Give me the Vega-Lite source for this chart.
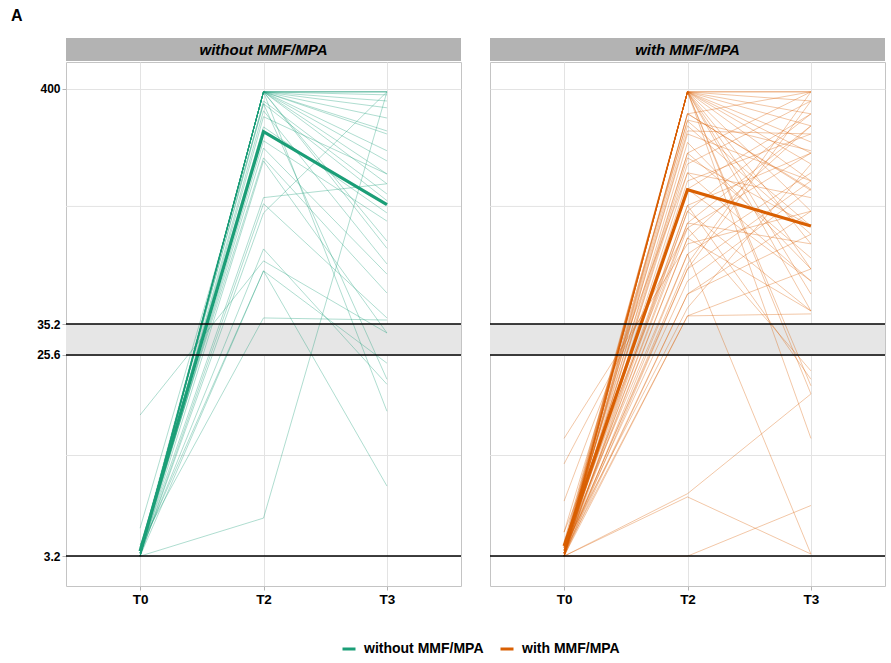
{
  "$schema": "https://vega.github.io/schema/vega-lite/v6.json",
  "padding": {"left": 11, "top": 8, "right": 5, "bottom": 5},
  "title": {"text": "A", "anchor": "start", "frame": "group", "dx": -55, "offset": 14, "fontSize": 16, "fontWeight": "bold", "font": "Liberation Sans", "color": "#000"},
  "datasets": {
    "without": [
      {"id": "L1", "t": "T0", "v": 3.2}, {"id": "L1", "t": "T2", "v": 388}, {"id": "L1", "t": "T3", "v": 388},
      {"id": "L2", "t": "T0", "v": 3.2}, {"id": "L2", "t": "T2", "v": 388}, {"id": "L2", "t": "T3", "v": 388},
      {"id": "L3", "t": "T0", "v": 3.3}, {"id": "L3", "t": "T2", "v": 388}, {"id": "L3", "t": "T3", "v": 388},
      {"id": "L4", "t": "T0", "v": 3.3}, {"id": "L4", "t": "T2", "v": 388}, {"id": "L4", "t": "T3", "v": 376},
      {"id": "L5", "t": "T0", "v": 3.2}, {"id": "L5", "t": "T2", "v": 388}, {"id": "L5", "t": "T3", "v": 296},
      {"id": "L6", "t": "T0", "v": 3.3}, {"id": "L6", "t": "T2", "v": 388}, {"id": "L6", "t": "T3", "v": 259},
      {"id": "L7", "t": "T0", "v": 3.2}, {"id": "L7", "t": "T2", "v": 388}, {"id": "L7", "t": "T3", "v": 251},
      {"id": "L8", "t": "T0", "v": 3.3}, {"id": "L8", "t": "T2", "v": 388}, {"id": "L8", "t": "T3", "v": 211},
      {"id": "L9", "t": "T0", "v": 3.2}, {"id": "L9", "t": "T2", "v": 388}, {"id": "L9", "t": "T3", "v": 190},
      {"id": "L10", "t": "T0", "v": 3.4}, {"id": "L10", "t": "T2", "v": 388}, {"id": "L10", "t": "T3", "v": 166},
      {"id": "L11", "t": "T0", "v": 3.3}, {"id": "L11", "t": "T2", "v": 388}, {"id": "L11", "t": "T3", "v": 150},
      {"id": "L12", "t": "T0", "v": 3.2}, {"id": "L12", "t": "T2", "v": 388}, {"id": "L12", "t": "T3", "v": 77},
      {"id": "L13", "t": "T0", "v": 3.3}, {"id": "L13", "t": "T2", "v": 353}, {"id": "L13", "t": "T3", "v": 135},
      {"id": "L14", "t": "T0", "v": 3.4}, {"id": "L14", "t": "T2", "v": 343}, {"id": "L14", "t": "T3", "v": 126},
      {"id": "L15", "t": "T0", "v": 3.2}, {"id": "L15", "t": "T2", "v": 319}, {"id": "L15", "t": "T3", "v": 65.5},
      {"id": "L16", "t": "T0", "v": 3.3}, {"id": "L16", "t": "T2", "v": 217}, {"id": "L16", "t": "T3", "v": 59},
      {"id": "L17", "t": "T0", "v": 3.5}, {"id": "L17", "t": "T2", "v": 196}, {"id": "L17", "t": "T3", "v": 48.5},
      {"id": "L18", "t": "T0", "v": 3.3}, {"id": "L18", "t": "T2", "v": 130}, {"id": "L18", "t": "T3", "v": 150},
      {"id": "L19", "t": "T0", "v": 3.2}, {"id": "L19", "t": "T2", "v": 122}, {"id": "L19", "t": "T3", "v": 37.5},
      {"id": "L20", "t": "T0", "v": 3.2}, {"id": "L20", "t": "T2", "v": 111}, {"id": "L20", "t": "T3", "v": 388},
      {"id": "L21", "t": "T0", "v": 3.3}, {"id": "L21", "t": "T2", "v": 76.5}, {"id": "L21", "t": "T3", "v": 18.9},
      {"id": "L22", "t": "T0", "v": 3.2}, {"id": "L22", "t": "T2", "v": 61}, {"id": "L22", "t": "T3", "v": 6.6},
      {"id": "L23", "t": "T0", "v": 3.4}, {"id": "L23", "t": "T2", "v": 61}, {"id": "L23", "t": "T3", "v": 23.5},
      {"id": "L24", "t": "T0", "v": 3.6}, {"id": "L24", "t": "T2", "v": 37.5}, {"id": "L24", "t": "T3", "v": 36.7},
      {"id": "L25", "t": "T0", "v": 3.2}, {"id": "L25", "t": "T2", "v": 4.74}, {"id": "L25", "t": "T3", "v": 388},
      {"id": "L26", "t": "T0", "v": 13.75}, {"id": "L26", "t": "T2", "v": 67.6}, {"id": "L26", "t": "T3", "v": 32.1},
      {"id": "L27", "t": "T0", "v": 4.27}, {"id": "L27", "t": "T2", "v": 343}, {"id": "L27", "t": "T3", "v": 19.9},
      {"id": "L28", "t": "T0", "v": 3.2}, {"id": "L28", "t": "T2", "v": 388}, {"id": "L28", "t": "T3", "v": 14.3},
      {"id": "L29", "t": "T0", "v": 3.3}, {"id": "L29", "t": "T2", "v": 388}, {"id": "L29", "t": "T3", "v": 83},
      {"id": "L30", "t": "T0", "v": 3.2}, {"id": "L30", "t": "T2", "v": 234}, {"id": "L30", "t": "T3", "v": 102},
      {"id": "L31", "t": "T0", "v": 3.2}, {"id": "L31", "t": "T2", "v": 190}, {"id": "L31", "t": "T3", "v": 32.1},
      {"id": "L32", "t": "T0", "v": 3.3}, {"id": "L32", "t": "T2", "v": 388}, {"id": "L32", "t": "T3", "v": 353},
      {"id": "L33", "t": "T0", "v": 3.2}, {"id": "L33", "t": "T2", "v": 388}, {"id": "L33", "t": "T3", "v": 329},
      {"id": "L34", "t": "T0", "v": 3.5}, {"id": "L34", "t": "T2", "v": 270}, {"id": "L34", "t": "T3", "v": 111},
      {"id": "L35", "t": "T0", "v": 3.2}, {"id": "L35", "t": "T2", "v": 300}, {"id": "L35", "t": "T3", "v": 166},
      {"id": "mean", "t": "T0", "v": 3.37}, {"id": "mean", "t": "T2", "v": 257}, {"id": "mean", "t": "T3", "v": 121}
    ],
    "with": [
      {"id": "R1", "t": "T0", "v": 3.2}, {"id": "R1", "t": "T2", "v": 388}, {"id": "R1", "t": "T3", "v": 388},
      {"id": "R2", "t": "T0", "v": 3.3}, {"id": "R2", "t": "T2", "v": 388}, {"id": "R2", "t": "T3", "v": 388},
      {"id": "R3", "t": "T0", "v": 3.2}, {"id": "R3", "t": "T2", "v": 388}, {"id": "R3", "t": "T3", "v": 353},
      {"id": "R4", "t": "T0", "v": 3.4}, {"id": "R4", "t": "T2", "v": 388}, {"id": "R4", "t": "T3", "v": 309},
      {"id": "R5", "t": "T0", "v": 3.3}, {"id": "R5", "t": "T2", "v": 388}, {"id": "R5", "t": "T3", "v": 273},
      {"id": "R6", "t": "T0", "v": 3.2}, {"id": "R6", "t": "T2", "v": 388}, {"id": "R6", "t": "T3", "v": 206},
      {"id": "R7", "t": "T0", "v": 3.5}, {"id": "R7", "t": "T2", "v": 388}, {"id": "R7", "t": "T3", "v": 184},
      {"id": "R8", "t": "T0", "v": 3.3}, {"id": "R8", "t": "T2", "v": 388}, {"id": "R8", "t": "T3", "v": 154.5},
      {"id": "R9", "t": "T0", "v": 3.2}, {"id": "R9", "t": "T2", "v": 388}, {"id": "R9", "t": "T3", "v": 113},
      {"id": "R10", "t": "T0", "v": 3.6}, {"id": "R10", "t": "T2", "v": 388}, {"id": "R10", "t": "T3", "v": 80.6},
      {"id": "R11", "t": "T0", "v": 3.2}, {"id": "R11", "t": "T2", "v": 388}, {"id": "R11", "t": "T3", "v": 62.2},
      {"id": "R12", "t": "T0", "v": 3.4}, {"id": "R12", "t": "T2", "v": 388}, {"id": "R12", "t": "T3", "v": 17.1},
      {"id": "R13", "t": "T0", "v": 3.3}, {"id": "R13", "t": "T2", "v": 388}, {"id": "R13", "t": "T3", "v": 10.8},
      {"id": "R14", "t": "T0", "v": 3.2}, {"id": "R14", "t": "T2", "v": 309}, {"id": "R14", "t": "T3", "v": 388},
      {"id": "R15", "t": "T0", "v": 3.5}, {"id": "R15", "t": "T2", "v": 309}, {"id": "R15", "t": "T3", "v": 142},
      {"id": "R16", "t": "T0", "v": 4.1}, {"id": "R16", "t": "T2", "v": 287}, {"id": "R16", "t": "T3", "v": 97},
      {"id": "R17", "t": "T0", "v": 3.3}, {"id": "R17", "t": "T2", "v": 259}, {"id": "R17", "t": "T3", "v": 251},
      {"id": "R18", "t": "T0", "v": 3.2}, {"id": "R18", "t": "T2", "v": 206}, {"id": "R18", "t": "T3", "v": 388},
      {"id": "R19", "t": "T0", "v": 3.6}, {"id": "R19", "t": "T2", "v": 206}, {"id": "R19", "t": "T3", "v": 69.7},
      {"id": "R20", "t": "T0", "v": 3.4}, {"id": "R20", "t": "T2", "v": 184}, {"id": "R20", "t": "T3", "v": 353},
      {"id": "R21", "t": "T0", "v": 5.65}, {"id": "R21", "t": "T2", "v": 168}, {"id": "R21", "t": "T3", "v": 54.9},
      {"id": "R22", "t": "T0", "v": 3.3}, {"id": "R22", "t": "T2", "v": 154.5}, {"id": "R22", "t": "T3", "v": 251},
      {"id": "R23", "t": "T0", "v": 3.2}, {"id": "R23", "t": "T2", "v": 113}, {"id": "R23", "t": "T3", "v": 309},
      {"id": "R24", "t": "T0", "v": 3.5}, {"id": "R24", "t": "T2", "v": 113}, {"id": "R24", "t": "T3", "v": 40.3},
      {"id": "R25", "t": "T0", "v": 8.3}, {"id": "R25", "t": "T2", "v": 95}, {"id": "R25", "t": "T3", "v": 206},
      {"id": "R26", "t": "T0", "v": 3.4}, {"id": "R26", "t": "T2", "v": 95}, {"id": "R26", "t": "T3", "v": 21.7},
      {"id": "R27", "t": "T0", "v": 3.3}, {"id": "R27", "t": "T2", "v": 85.7}, {"id": "R27", "t": "T3", "v": 273},
      {"id": "R28", "t": "T0", "v": 10.8}, {"id": "R28", "t": "T2", "v": 80.6}, {"id": "R28", "t": "T3", "v": 113},
      {"id": "R29", "t": "T0", "v": 3.2}, {"id": "R29", "t": "T2", "v": 72.6}, {"id": "R29", "t": "T3", "v": 168},
      {"id": "R30", "t": "T0", "v": 3.6}, {"id": "R30", "t": "T2", "v": 72.6}, {"id": "R30", "t": "T3", "v": 3.27},
      {"id": "R31", "t": "T0", "v": 3.3}, {"id": "R31", "t": "T2", "v": 65.5}, {"id": "R31", "t": "T3", "v": 388},
      {"id": "R32", "t": "T0", "v": 3.4}, {"id": "R32", "t": "T2", "v": 54.9}, {"id": "R32", "t": "T3", "v": 142},
      {"id": "R33", "t": "T0", "v": 3.2}, {"id": "R33", "t": "T2", "v": 48}, {"id": "R33", "t": "T3", "v": 89},
      {"id": "R34", "t": "T0", "v": 3.5}, {"id": "R34", "t": "T2", "v": 41.6}, {"id": "R34", "t": "T3", "v": 184},
      {"id": "R35", "t": "T0", "v": 3.3}, {"id": "R35", "t": "T2", "v": 38.3}, {"id": "R35", "t": "T3", "v": 62.2},
      {"id": "R36", "t": "T0", "v": 3.2}, {"id": "R36", "t": "T2", "v": 38.3}, {"id": "R36", "t": "T3", "v": 39.1},
      {"id": "R37", "t": "T0", "v": 3.2}, {"id": "R37", "t": "T2", "v": 6.1}, {"id": "R37", "t": "T3", "v": 17.1},
      {"id": "R38", "t": "T0", "v": 3.2}, {"id": "R38", "t": "T2", "v": 5.9}, {"id": "R38", "t": "T3", "v": 3.27},
      {"id": "R39", "t": "T0", "v": 3.2}, {"id": "R39", "t": "T2", "v": 3.2}, {"id": "R39", "t": "T3", "v": 5.4},
      {"id": "R40", "t": "T0", "v": 3.7}, {"id": "R40", "t": "T2", "v": 388}, {"id": "R40", "t": "T3", "v": 48},
      {"id": "R41", "t": "T0", "v": 3.3}, {"id": "R41", "t": "T2", "v": 388}, {"id": "R41", "t": "T3", "v": 40.3},
      {"id": "R42", "t": "T0", "v": 3.2}, {"id": "R42", "t": "T2", "v": 388}, {"id": "R42", "t": "T3", "v": 18.6},
      {"id": "R43", "t": "T0", "v": 3.3}, {"id": "R43", "t": "T2", "v": 273}, {"id": "R43", "t": "T3", "v": 89},
      {"id": "R44", "t": "T0", "v": 3.4}, {"id": "R44", "t": "T2", "v": 251}, {"id": "R44", "t": "T3", "v": 154.5},
      {"id": "R45", "t": "T0", "v": 3.2}, {"id": "R45", "t": "T2", "v": 230}, {"id": "R45", "t": "T3", "v": 62.2},
      {"id": "R46", "t": "T0", "v": 3.6}, {"id": "R46", "t": "T2", "v": 142}, {"id": "R46", "t": "T3", "v": 309},
      {"id": "R47", "t": "T0", "v": 3.3}, {"id": "R47", "t": "T2", "v": 142}, {"id": "R47", "t": "T3", "v": 54.9},
      {"id": "R48", "t": "T0", "v": 3.2}, {"id": "R48", "t": "T2", "v": 120}, {"id": "R48", "t": "T3", "v": 206},
      {"id": "R49", "t": "T0", "v": 3.5}, {"id": "R49", "t": "T2", "v": 120}, {"id": "R49", "t": "T3", "v": 19.9},
      {"id": "R50", "t": "T0", "v": 4.1}, {"id": "R50", "t": "T2", "v": 100}, {"id": "R50", "t": "T3", "v": 273},
      {"id": "R51", "t": "T0", "v": 3.3}, {"id": "R51", "t": "T2", "v": 100}, {"id": "R51", "t": "T3", "v": 80.6},
      {"id": "R52", "t": "T0", "v": 3.2}, {"id": "R52", "t": "T2", "v": 62.2}, {"id": "R52", "t": "T3", "v": 353},
      {"id": "R53", "t": "T0", "v": 3.4}, {"id": "R53", "t": "T2", "v": 62.2}, {"id": "R53", "t": "T3", "v": 154.5},
      {"id": "R54", "t": "T0", "v": 3.3}, {"id": "R54", "t": "T2", "v": 48}, {"id": "R54", "t": "T3", "v": 113},
      {"id": "R55", "t": "T0", "v": 3.5}, {"id": "R55", "t": "T2", "v": 388}, {"id": "R55", "t": "T3", "v": 231},
      {"id": "R56", "t": "T0", "v": 3.2}, {"id": "R56", "t": "T2", "v": 168}, {"id": "R56", "t": "T3", "v": 130},
      {"id": "R57", "t": "T0", "v": 3.3}, {"id": "R57", "t": "T2", "v": 290}, {"id": "R57", "t": "T3", "v": 211},
      {"id": "R58", "t": "T0", "v": 3.2}, {"id": "R58", "t": "T2", "v": 196}, {"id": "R58", "t": "T3", "v": 97},
      {"id": "R59", "t": "T0", "v": 3.4}, {"id": "R59", "t": "T2", "v": 85.7}, {"id": "R59", "t": "T3", "v": 40.3},
      {"id": "R60", "t": "T0", "v": 3.3}, {"id": "R60", "t": "T2", "v": 310}, {"id": "R60", "t": "T3", "v": 140},
      {"id": "mean", "t": "T0", "v": 3.55}, {"id": "mean", "t": "T2", "v": 141}, {"id": "mean", "t": "T3", "v": 97}
    ],
    "refs": [{"y": 3.2}, {"y": 25.6}, {"y": 35.2}],
    "minor": [{"y": 9.05}, {"y": 30.02}, {"y": 118.7}],
    "band": [{"lo": 25.6, "hi": 35.2}]
  },
  "hconcat": [
    {
      "spacing": 0,
      "vconcat": [
        {
          "width": 395,
          "height": 23,
          "view": {"fill": "#b3b3b3", "stroke": null},
          "data": {"values": [{"label": "without MMF/MPA"}]},
          "mark": {"type": "text", "fontSize": 15, "fontWeight": "bold", "fontStyle": "italic", "color": "#000"},
          "encoding": {
            "text": {"field": "label"},
            "y": {"field": "label", "type": "nominal", "axis": {"title": null, "labels": false, "ticks": false, "domain": false, "grid": false, "minExtent": 30, "maxExtent": 30}}
          }
        },
        {
          "width": 395,
          "height": 524,
          "layer": [
            {
              "data": {"name": "minor"},
              "mark": {"type": "rule", "color": "#e3e3e3", "strokeWidth": 1},
              "encoding": {
                "y": {"field": "y", "type": "quantitative", "title": null, "scale": {"type": "log", "domain": [2.35, 528], "nice": false},
                  "axis": {"values": [3.2, 25.6, 35.2, 400], "labelOverlap": false, "labelFontSize": 12, "tickSize": 4, "labelPadding": 2, "minExtent": 30, "maxExtent": 30,
                    "labelExpr": "'' + datum.value"}}
              }
            },
            {
              "data": {"name": "band"},
              "mark": {"type": "rect", "color": "#e6e6e6"},
              "encoding": {
                "y": {"field": "lo", "type": "quantitative", "title": null, "scale": {"type": "log", "domain": [2.35, 528], "nice": false}},
                "y2": {"field": "hi"}
              }
            },
            {
              "data": {"name": "without"},
              "transform": [{"filter": "datum.id !== 'mean'"}],
              "mark": {"type": "line", "strokeWidth": 1, "opacity": 0.35, "color": "#1b9e77"},
              "encoding": {
                "x": {"field": "t", "type": "ordinal", "title": null, "scale": {"type": "point", "domain": ["T0", "T2", "T3"], "padding": 0.6}, "axis": {"labelAngle": 0, "labelFontSize": 13.5, "tickSize": 4, "labelPadding": 2}},
                "y": {"field": "v", "type": "quantitative", "title": null, "scale": {"type": "log", "domain": [2.35, 528], "nice": false}},
                "detail": {"field": "id"}
              }
            },
            {
              "data": {"name": "without"},
              "transform": [{"filter": "datum.id === 'mean'"}],
              "mark": {"type": "line", "strokeWidth": 3.2},
              "encoding": {
                "x": {"field": "t", "type": "ordinal", "title": null, "scale": {"type": "point", "domain": ["T0", "T2", "T3"], "padding": 0.6}},
                "y": {"field": "v", "type": "quantitative", "title": null, "scale": {"type": "log", "domain": [2.35, 528], "nice": false}},
                "color": {"datum": "without MMF/MPA", "type": "nominal", "title": null, "scale": {"domain": ["without MMF/MPA", "with MMF/MPA"], "range": ["#1b9e77", "#d95f02"]},
                  "legend": {"orient": "none", "legendX": 275, "legendY": 603, "direction": "horizontal", "symbolType": "stroke", "symbolSize": 169, "symbolStrokeWidth": 3, "symbolOpacity": 1, "labelFontSize": 14, "labelFontWeight": "bold", "labelColor": "#000", "labelOffset": 7, "columnPadding": 10}}
              }
            },
            {
              "data": {"name": "refs"},
              "mark": {"type": "rule", "color": "#000", "strokeWidth": 1.5},
              "encoding": {"y": {"field": "y", "type": "quantitative", "title": null, "scale": {"type": "log", "domain": [2.35, 528], "nice": false}}}
            }
          ]
        }
      ]
    },
    {
      "spacing": 0,
      "vconcat": [
        {
          "width": 395,
          "height": 23,
          "view": {"fill": "#b3b3b3", "stroke": null},
          "data": {"values": [{"label": "with MMF/MPA"}]},
          "mark": {"type": "text", "fontSize": 15, "fontWeight": "bold", "fontStyle": "italic", "color": "#000"},
          "encoding": {"text": {"field": "label"}}
        },
        {
          "width": 395,
          "height": 524,
          "layer": [
            {
              "data": {"name": "minor"},
              "mark": {"type": "rule", "color": "#e3e3e3", "strokeWidth": 1},
              "encoding": {
                "y": {"field": "y", "type": "quantitative", "title": null, "scale": {"type": "log", "domain": [2.35, 528], "nice": false},
                  "axis": {"values": [3.2, 25.6, 35.2, 400], "labels": false, "ticks": false}}
              }
            },
            {
              "data": {"name": "band"},
              "mark": {"type": "rect", "color": "#e6e6e6"},
              "encoding": {
                "y": {"field": "lo", "type": "quantitative", "title": null, "scale": {"type": "log", "domain": [2.35, 528], "nice": false}},
                "y2": {"field": "hi"}
              }
            },
            {
              "data": {"name": "with"},
              "transform": [{"filter": "datum.id !== 'mean'"}],
              "mark": {"type": "line", "strokeWidth": 1, "opacity": 0.35, "color": "#d95f02"},
              "encoding": {
                "x": {"field": "t", "type": "ordinal", "title": null, "scale": {"type": "point", "domain": ["T0", "T2", "T3"], "padding": 0.6}, "axis": {"labelAngle": 0, "labelFontSize": 13.5, "tickSize": 4, "labelPadding": 2}},
                "y": {"field": "v", "type": "quantitative", "title": null, "scale": {"type": "log", "domain": [2.35, 528], "nice": false}},
                "detail": {"field": "id"}
              }
            },
            {
              "data": {"name": "with"},
              "transform": [{"filter": "datum.id === 'mean'"}],
              "mark": {"type": "line", "strokeWidth": 3.2},
              "encoding": {
                "x": {"field": "t", "type": "ordinal", "title": null, "scale": {"type": "point", "domain": ["T0", "T2", "T3"], "padding": 0.6}},
                "y": {"field": "v", "type": "quantitative", "title": null, "scale": {"type": "log", "domain": [2.35, 528], "nice": false}},
                "color": {"datum": "with MMF/MPA", "type": "nominal", "title": null, "scale": {"domain": ["without MMF/MPA", "with MMF/MPA"], "range": ["#1b9e77", "#d95f02"]},
                  "legend": {"orient": "none", "legendX": 275, "legendY": 603, "direction": "horizontal", "symbolType": "stroke", "symbolSize": 169, "symbolStrokeWidth": 3, "symbolOpacity": 1, "labelFontSize": 14, "labelFontWeight": "bold", "labelColor": "#000", "labelOffset": 7, "columnPadding": 10}}
              }
            },
            {
              "data": {"name": "refs"},
              "mark": {"type": "rule", "color": "#000", "strokeWidth": 1.5},
              "encoding": {"y": {"field": "y", "type": "quantitative", "title": null, "scale": {"type": "log", "domain": [2.35, 528], "nice": false}}}
            }
          ]
        }
      ]
    }
  ],
  "spacing": 25,
  "resolve": {"scale": {"color": "shared"}, "legend": {"color": "shared"}},
  "config": {
    "font": "Liberation Sans",
    "view": {"stroke": "#c4c4c4"},
    "axis": {"domain": false, "grid": true, "gridColor": "#e3e3e3", "gridWidth": 1, "tickColor": "#b3b3b3", "labelFont": "Liberation Sans", "labelFontWeight": "bold", "labelColor": "#000"},
    "legend": {"labelFont": "Liberation Sans"}
  }
}
